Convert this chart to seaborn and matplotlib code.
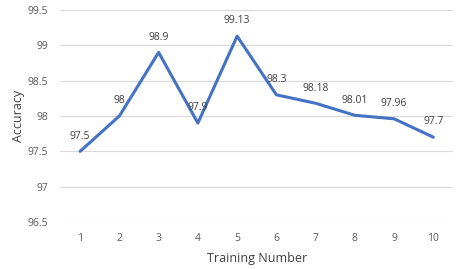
import matplotlib
matplotlib.use("Agg")
import matplotlib.pyplot as plt
import seaborn as sns
import pandas as pd

# values
training_number = [1, 2, 3, 4, 5, 6, 7, 8, 9, 10]
accuracy = [97.5, 98.0, 98.9, 97.9, 99.13, 98.3, 98.18, 98.01, 97.96, 97.7]
point_labels = ["97.5", "98", "98.9", "97.9", "99.13", "98.3", "98.18", "98.01", "97.96", "97.7"]
y_ticks = [96.5, 97, 97.5, 98, 98.5, 99, 99.5]
y_tick_labels = ["96.5", "97", "97.5", "98", "98.5", "99", "99.5"]

df = pd.DataFrame({"Training Number": training_number, "Accuracy": accuracy})

sns.set_style("white")
plt.rcParams['font.family'] = ['Open Sans', 'DejaVu Sans']

fig = plt.figure(figsize=(4.64, 2.69), dpi=100)
ax = fig.add_axes([60.5 / 464, 1 - 222 / 269, (453 - 60.5) / 464, 212 / 269])

sns.lineplot(data=df, x="Training Number", y="Accuracy", ax=ax,
             color="#4472C4", linewidth=2.2)

for x, y, t in zip(training_number, accuracy, point_labels):
    ax.annotate(t, (x, y), xytext=(0, 7), textcoords="offset points",
                ha="center", va="bottom", fontsize=7.5, color="#404040")

ax.set_xlim(0.5, 10.5)
ax.set_ylim(96.5, 99.5)
ax.set_xticks(training_number)
ax.set_yticks(y_ticks)
ax.set_yticklabels(y_tick_labels)
ax.grid(axis="y", color="#D9D9D9", linewidth=0.8)
ax.set_axisbelow(True)
for s in ax.spines.values():
    s.set_visible(False)
ax.tick_params(axis="both", length=0, labelsize=7.5, labelcolor="#595959")
ax.tick_params(axis="x", pad=8)
ax.tick_params(axis="y", pad=9)
ax.set_xlabel("Training Number", fontsize=9, color="#404040", labelpad=6)
ax.set_ylabel("Accuracy", fontsize=9, color="#404040", labelpad=2)

fig.savefig("out.png", dpi=100)
